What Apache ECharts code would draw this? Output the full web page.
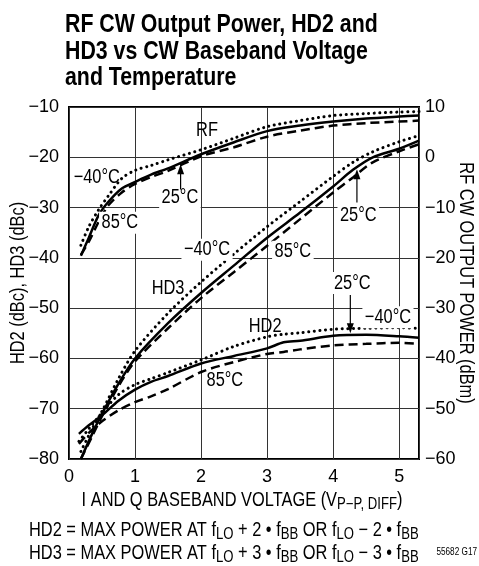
<!DOCTYPE html>
<html>
<head>
<meta charset="utf-8">
<script src="https://cdn.jsdelivr.net/npm/echarts@6/dist/echarts.min.js"></script>
<style>
  html, body { margin: 0; padding: 0; background: #fff; }
  #main { width: 479px; height: 566px; }
</style>
</head>
<body>
<div id="main"></div>
<script>
const FONT = '"Liberation Sans", Arial, sans-serif'
const NARROW = 0.82 // squeeze Arial metrics down to a narrow face

// RF CW output power (dBm, right axis)
const rfVolts = [0.18, 0.3, 0.45, 0.6, 0.8, 1.0, 1.25, 1.5, 2.0, 2.5, 3.0, 3.5, 4.0, 4.5, 5.0, 5.3]
const rfM40 = [-17.5, -13.8, -10.4, -7.6, -4.2, -2.6, -1.6, -0.5, 1.5, 3.8, 6.1, 7.3, 8.3, 8.7, 9.0, 9.1]
const rf25 = [-19.6, -16.0, -11.5, -8.8, -6.2, -4.9, -3.4, -2.2, 0.6, 3.0, 5.2, 6.3, 7.1, 7.7, 8.1, 8.3]
const rf85 = [-19.4, -16.8, -12.8, -9.5, -7.0, -5.3, -3.9, -2.7, 0.2, 2.0, 4.1, 5.3, 6.3, 6.8, 7.1, 7.3]

// HD3 (dBc, left axis)
const hd3Volts = [0.18, 0.35, 0.5, 0.75, 1.0, 1.5, 2.0, 2.5, 3.0, 3.5, 4.0, 4.3, 4.6, 5.0, 5.3]
const hd3M40 = [-78.5, -74, -70.5, -64, -58.5, -51, -44.8, -39.2, -33.8, -28.8, -23.8, -21, -18.9, -16.9, -15.7]
const hd325 = [-80, -75, -71, -65, -60, -53, -47, -41.5, -36, -31, -25.8, -22.5, -20, -18.3, -16.7]
const hd385 = [-80, -75.5, -71.5, -65.5, -60.6, -54, -48, -42.8, -37.6, -32.3, -27, -24, -21, -18.8, -17.4]

// HD2 (dBc, left axis)
const hd2Volts = [0.15, 0.3, 0.5, 0.75, 1.0, 1.25, 1.5, 2.0, 2.5, 3.0, 3.25, 3.5, 4.0, 4.5, 5.0, 5.3]
const hd2M40 = [-76.5, -74, -70.8, -67.2, -65.2, -64, -62.8, -60.3, -57.6, -55.7, -55.2, -54.9, -54.2, -54, -53.9, -54]
const hd225 = [-75, -73.3, -71.3, -68.4, -66.2, -64.6, -63.5, -61, -59.5, -58, -56.8, -56.5, -55.5, -55.3, -55.6, -55.9]
const hd285 = [-77, -74.8, -72.5, -70.3, -68.7, -67.5, -66.1, -62.7, -60.7, -59.1, -58.7, -58.2, -57.4, -57.1, -56.9, -57.1]

const DOTTED = { color: '#000', width: 3, type: [0.1, 5.5], cap: 'round' }
const SOLID = { color: '#000', width: 2.5, type: 'solid' }
const DASHED = { color: '#000', width: 2.5, type: [9, 5] }

function curve(name, xs, ys, style, axis) {
  return {
    name: name,
    type: 'line',
    yAxisIndex: axis,
    smooth: 0.3,
    showSymbol: false,
    symbol: 'none',
    silent: true,
    lineStyle: style,
    data: xs.map((x, i) => [x, ys[i]]),
  }
}

const minus = (v) => String(v).replace('-', '\u2212')

const chart = echarts.init(document.getElementById('main'))
chart.setOption({
  animation: false,
  backgroundColor: '#fff',
  grid: {
    left: 69,
    right: 60,
    top: 107,
    bottom: 107,
    show: true,
    borderColor: '#000',
    borderWidth: 2,
  },
  xAxis: {
    type: 'value',
    min: 0,
    max: 5.3,
    interval: 1,
    axisLine: { show: false },
    axisTick: { show: false },
    splitLine: { show: true, lineStyle: { color: '#333', width: 1 } },
    axisLabel: {
      margin: 9,
      color: '#000',
      fontFamily: FONT,
      fontSize: 18,
      formatter: (v) => (Number.isInteger(v) ? String(v) : ''),
    },
  },
  yAxis: [
    {
      type: 'value',
      min: -80,
      max: -10,
      interval: 10,
      axisLine: { show: false },
      axisTick: { show: false },
      splitLine: { show: true, lineStyle: { color: '#333', width: 1 } },
      axisLabel: { margin: 10, color: '#000', fontFamily: FONT, fontSize: 18, formatter: minus },
    },
    {
      type: 'value',
      position: 'right',
      min: -60,
      max: 10,
      interval: 10,
      axisLine: { show: false },
      axisTick: { show: false },
      splitLine: { show: false },
      axisLabel: { margin: 6, color: '#000', fontFamily: FONT, fontSize: 18, formatter: minus },
    },
  ],
  series: [
    curve('RF -40', rfVolts, rfM40, DOTTED, 1),
    curve('RF 25', rfVolts, rf25, SOLID, 1),
    curve('RF 85', rfVolts, rf85, DASHED, 1),
    curve('HD3 -40', hd3Volts, hd3M40, DOTTED, 0),
    curve('HD3 25', hd3Volts, hd325, SOLID, 0),
    curve('HD3 85', hd3Volts, hd385, DASHED, 0),
    curve('HD2 -40', hd2Volts, hd2M40, DOTTED, 0),
    curve('HD2 25', hd2Volts, hd225, SOLID, 0),
    curve('HD2 85', hd2Volts, hd285, DASHED, 0),
  ],
})

// labels placed in left-axis data coordinates: [text, volts, dBc, white box]
const notes = [
  ['RF', 2.09, -14.6, false],
  ['\u221240\u00b0C', 0.42, -24, false],
  ['25\u00b0C', 1.68, -28, true],
  ['85\u00b0C', 0.77, -33, true],
  ['\u221240\u00b0C', 2.09, -38.4, true],
  ['HD3', 1.5, -46, false],
  ['85\u00b0C', 3.39, -38.8, true],
  ['25\u00b0C', 4.38, -31.6, true],
  ['25\u00b0C', 4.29, -45, true],
  ['\u221240\u00b0C', 4.83, -51.8, true],
  ['HD2', 2.97, -53.6, false],
  ['85\u00b0C', 2.36, -64.4, false],
]
// arrows: [volts, from dBc, to dBc]
const arrows = [
  [1.69, -26.4, -21.4],
  [4.36, -29, -22.4],
  [4.26, -47.4, -55],
]

const px = (x, y) => chart.convertToPixel({ xAxisIndex: 0, yAxisIndex: 0 }, [x, y])
const graphics = []

function narrowText(x, y, style, extra) {
  return Object.assign({ type: 'text', x: x, y: y, scaleX: NARROW, style: style }, extra || {})
}

notes.forEach(([t, x, y, box]) => {
  const p = px(x, y)
  graphics.push(narrowText(p[0], p[1], {
    text: t,
    font: '20px ' + FONT,
    fill: '#000',
    align: 'center',
    verticalAlign: 'middle',
    backgroundColor: box ? '#fff' : null,
    padding: box ? [1, 3] : 0,
  }, { z: 100 }))
})

arrows.forEach(([x, y0, y1]) => {
  const a = px(x, y0)
  const b = px(x, y1)
  const dir = b[1] < a[1] ? 1 : -1
  graphics.push({
    type: 'line',
    z: 101,
    shape: { x1: a[0], y1: a[1], x2: b[0], y2: b[1] + dir * 8 },
    style: { stroke: '#000', lineWidth: 1.2 },
  })
  graphics.push({
    type: 'polygon',
    z: 101,
    shape: { points: [[b[0], b[1]], [b[0] - 3.5, b[1] + dir * 10], [b[0] + 3.5, b[1] + dir * 10]] },
    style: { fill: '#000' },
  })
})

// title
const titleLines = ['RF CW Output Power, HD2 and', 'HD3 vs CW Baseband Voltage', 'and Temperature']
titleLines.forEach((t, i) => {
  graphics.push(narrowText(65, 25 + i * 26.5, {
    text: t, font: 'bold 26px ' + FONT, fill: '#000', align: 'left', verticalAlign: 'middle',
  }))
})

// axis names
graphics.push(narrowText(18, 283, {
  text: 'HD2 (dBc), HD3 (dBc)', font: '20px ' + FONT, fill: '#000', align: 'center', verticalAlign: 'middle',
}, { rotation: Math.PI / 2 }))
graphics.push(narrowText(466, 283, {
  text: 'RF CW OUTPUT POWER (dBm)', font: '20px ' + FONT, fill: '#000', align: 'center', verticalAlign: 'middle',
}, { rotation: -Math.PI / 2 }))

const rich = {
  a: { fontFamily: FONT, fontSize: 20, color: '#000' },
  s: { fontFamily: FONT, fontSize: 16, color: '#000', padding: [9, 0, 0, 0] },
}
graphics.push(narrowText(242, 500, {
  text: '{a|I AND Q BASEBAND VOLTAGE (V}{s|P\u2212P, DIFF}{a|)}',
  rich: rich,
  align: 'center',
  verticalAlign: 'middle',
}))
graphics.push(narrowText(29, 530, {
  text: '{a|HD2 = MAX POWER AT f}{s|LO}{a| + 2 \u2022 f}{s|BB}{a| OR f}{s|LO}{a| \u2212 2 \u2022 f}{s|BB}',
  rich: rich,
  align: 'left',
  verticalAlign: 'middle',
}))
graphics.push(narrowText(29, 553, {
  text: '{a|HD3 = MAX POWER AT f}{s|LO}{a| + 3 \u2022 f}{s|BB}{a| OR f}{s|LO}{a| \u2212 3 \u2022 f}{s|BB}',
  rich: rich,
  align: 'left',
  verticalAlign: 'middle',
}))
graphics.push(narrowText(477, 552, {
  text: '55682 G17', font: '10px ' + FONT, fill: '#000', align: 'right', verticalAlign: 'middle',
}))

chart.setOption({ graphic: graphics })
</script>
</body>
</html>
